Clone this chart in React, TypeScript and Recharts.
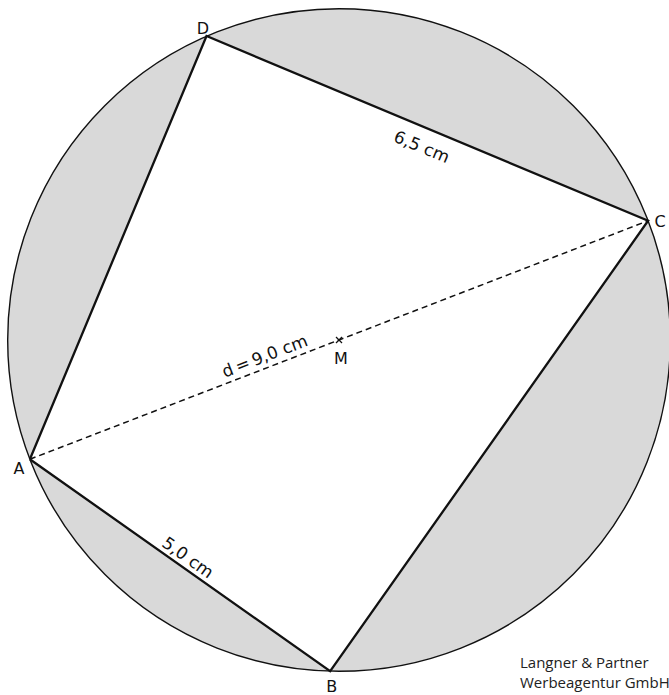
import { ScatterChart, Scatter, XAxis, YAxis } from "recharts"

// vertices of the quadrilateral, in cm, centre M at the origin
const vertexNames = ["A", "B", "C", "D"]
const vertexX = [-4.2, -0.12, 4.2, -1.8]
const vertexY = [-1.62, -4.5, 1.62, 4.13]

const centerName = "M"
const centerX = 0
const centerY = 0

const sideLabels = ["5,0 cm", "6,5 cm"]
const sideEnds = [
  [0, 1],
  [3, 2],
]
const diagonalLabel = "d\u2009=\u20099,0 cm"
const credit = ["Langner & Partner", "Werbeagentur GmbH"]

// layout: 73.6 px per cm, M at pixel (339, 340)
const W = 669
const H = 695
const PX = 73.6
const xDomain = [-339 / PX, (W - 339) / PX]
const yDomain = [-(H - 340) / PX, 340 / PX]

const FONT = "DejaVu Sans, Verdana, sans-serif"
const GREY = "#d9d9d9"

const pt = (i: number) => ({ x: vertexX[i], y: vertexY[i], name: vertexNames[i] })

const circleData = [{ x: centerX, y: centerY, name: centerName }, pt(0)]
const quadData = [0, 1, 2, 3, 0].map(pt)
const diagData = [pt(0), pt(2)]
const centerData = [{ x: centerX, y: centerY, name: centerName }]
const vertexData = vertexNames.map((_, i) => pt(i))

const vertexOffsets: Record<string, [number, number]> = {
  A: [-11, 14.5],
  B: [1.5, 20.5],
  C: [12, 6],
  D: [-3.5, -2],
}

const sideOffsets = [-5, 25]

const noShape = () => <g />

const circleLine = (p: any) => {
  const [c, e] = p.points
  const r = Math.hypot(e.x - c.x, e.y - c.y)
  return <circle cx={c.x} cy={c.y} r={r} fill={GREY} stroke="#111" strokeWidth={1.4} />
}

const sideLabel = (label: string, offset: number) => (p: any) => {
  const [a, b] = p.points
  const ang = (Math.atan2(b.y - a.y, b.x - a.x) * 180) / Math.PI
  const mx = (a.x + b.x) / 2
  const my = (a.y + b.y) / 2
  return (
    <text
      transform={`translate(${mx},${my}) rotate(${ang})`}
      x={2}
      y={offset}
      textAnchor="middle"
      fontFamily={FONT}
      fontSize={17}
      fill="#111"
    >
      {label}
    </text>
  )
}

const diagLine = (p: any) => {
  const [a, c] = p.points
  const ang = (Math.atan2(c.y - a.y, c.x - a.x) * 180) / Math.PI
  const mx = (a.x + c.x) / 2
  const my = (a.y + c.y) / 2
  return (
    <g>
      <line x1={a.x} y1={a.y} x2={c.x} y2={c.y} stroke="#111" strokeWidth={1.5} strokeDasharray="6 4" />
      <text
        transform={`translate(${mx},${my}) rotate(${ang})`}
        x={-30}
        y={-6}
        textAnchor="end"
        fontFamily={FONT}
        fontSize={17}
        fill="#111"
      >
        {diagonalLabel}
      </text>
    </g>
  )
}

const vertexLabel = (p: any) => {
  const [dx, dy] = vertexOffsets[p.payload.name] || [0, 0]
  return (
    <text x={p.cx + dx} y={p.cy + dy} textAnchor="middle" fontFamily={FONT} fontSize={16} fill="#111">
      {p.payload.name}
    </text>
  )
}

const centerMark = (p: any) => (
  <g stroke="#111" strokeWidth={1.3}>
    <line x1={p.cx - 3} y1={p.cy - 3} x2={p.cx + 3} y2={p.cy + 3} />
    <line x1={p.cx - 3} y1={p.cy + 3} x2={p.cx + 3} y2={p.cy - 3} />
    <text x={p.cx + 2} y={p.cy + 24} textAnchor="middle" fontFamily={FONT} fontSize={16} fill="#111" stroke="none">
      {p.payload.name}
    </text>
  </g>
)

export default function App() {
  return (
    <div style={{ position: "absolute", left: 0, top: 0, width: W, height: H, background: "#fff", overflow: "hidden" }}>
      <ScatterChart width={W} height={H} margin={{ top: 0, right: 0, bottom: 0, left: 0 }}>
        <XAxis type="number" dataKey="x" domain={xDomain} allowDataOverflow hide />
        <YAxis type="number" dataKey="y" domain={yDomain} allowDataOverflow hide />
        <Scatter data={circleData} shape={noShape} line={circleLine} lineType="joint" isAnimationActive={false} />
        <Scatter
          data={quadData}
          shape={noShape}
          line={{ fill: "#fff", stroke: "#111", strokeWidth: 2.3, strokeLinejoin: "miter" }}
          lineType="joint"
          isAnimationActive={false}
        />
        <Scatter data={diagData} shape={noShape} line={diagLine} lineType="joint" isAnimationActive={false} />
        {sideEnds.map(([a, b], i) => (
          <Scatter
            key={sideLabels[i]}
            data={[pt(a), pt(b)]}
            shape={noShape}
            line={sideLabel(sideLabels[i], sideOffsets[i])}
            lineType="joint"
            isAnimationActive={false}
          />
        ))}
        <Scatter data={centerData} shape={centerMark} isAnimationActive={false} />
        <Scatter data={vertexData} shape={vertexLabel} isAnimationActive={false} />
      </ScatterChart>
      <div
        style={{
          position: "absolute",
          left: 520,
          top: 652,
          fontFamily: "'Open Sans', sans-serif",
          fontSize: 15,
          lineHeight: "20px",
          color: "#222",
          whiteSpace: "nowrap",
        }}
      >
        {credit.map((c) => (
          <div key={c}>{c}</div>
        ))}
      </div>
    </div>
  )
}
